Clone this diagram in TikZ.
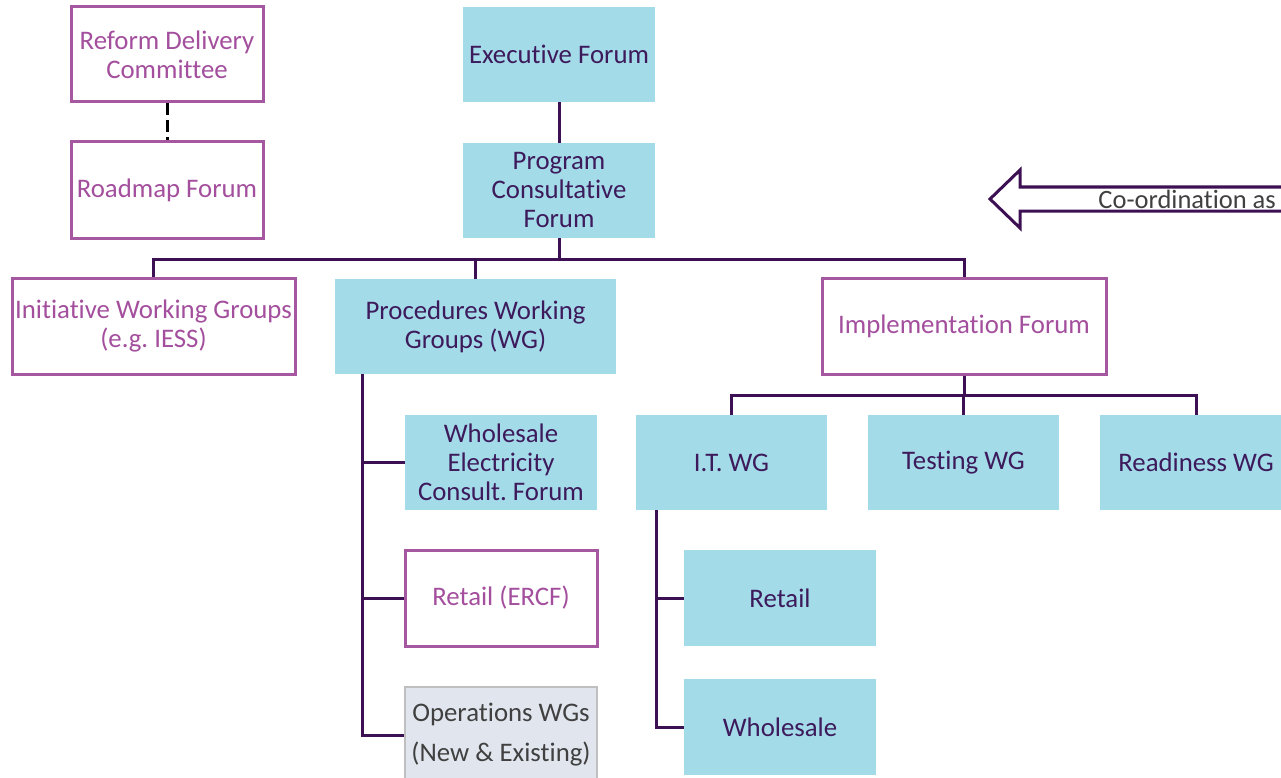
\documentclass[tikz,border=0pt]{standalone}
\usepackage{fontspec}
\setmainfont{Carlito}[RawFeature={-liga;-clig;-calt;-dlig}]
\frenchspacing
\definecolor{pbord}{HTML}{A5579F}
\definecolor{ptext}{HTML}{A34F9D}
\definecolor{bfill}{HTML}{A4DBE8}
\definecolor{dtext}{HTML}{3C1A5B}
\definecolor{lineC}{HTML}{3C1053}
\definecolor{gfill}{HTML}{E1E5EE}
\definecolor{gbord}{HTML}{BFBFBF}
\definecolor{gtext}{HTML}{404040}
\tikzset{
  base/.style={rectangle, align=center, inner sep=2pt, font=\fontsize{26.8}{29}\selectfont},
  pbox/.style={base, draw=pbord, line width=3pt, fill=white, text=ptext},
  bbox/.style={base, fill=bfill, text=dtext},
  gbox/.style={base, fill=gfill, draw=gbord, line width=2.5pt, text=gtext, font=\fontsize{26.8}{40}\selectfont},
  conn/.style={draw=lineC, line width=3pt},
  sz/.style 2 args={minimum width=#1pt, minimum height=#2pt}
}
\begin{document}
\begin{tikzpicture}[x=1pt,y=1pt]
\useasboundingbox (0,0) rectangle (1281,-778);
\clip (0,0) rectangle (1281,-778);
% nodes
\node[pbox, sz={192}{95}] (rdc) at (167,-54.5) {Reform Delivery\\Committee};
\node[pbox, sz={192}{96}] (road) at (167,-190) {Roadmap Forum};
\node[bbox, sz={192}{95}] (exec) at (559,-54.5) {Executive Forum};
\node[bbox, sz={192}{95}] (pcf) at (559,-190.5) {Program\\Consultative\\Forum};
\node[pbox, sz={283}{96}] (init) at (153.5,-326) {Initiative Working Groups\\(e.g. IESS)};
\node[bbox, sz={281}{95}] (proc) at (475.5,-326.5) {Procedures Working\\Groups (WG)};
\node[pbox, sz={284}{96}] (impl) at (964,-326) {Implementation Forum};
\node[bbox, sz={191}{95}] (it) at (731.5,-462.5) {I.T. WG};
\node[bbox, sz={191}{95}] (test) at (963.5,-462.5) {Testing WG};
\node[bbox, sz={192}{95}] (ready) at (1196,-462.5) {Readiness WG};
\node[bbox, sz={192}{95}] (wecf) at (501,-462.5) {Wholesale\\Electricity\\Consult. Forum};
\node[pbox, sz={192}{96}] (retE) at (501,-598) {Retail (ERCF)};
\node[gbox, sz={192}{96}] (ops) at (501,-735) {Operations WGs\\(New \& Existing)};
\node[bbox, sz={192}{96}] (itR) at (780,-598) {Retail};
\node[bbox, sz={192}{96}] (itW) at (780,-727) {Wholesale};
% connectors
\draw[line width=3pt, dash pattern=on 12pt off 5pt] (rdc.south) -- (road.north);
\draw[conn] (exec.south) -- (pcf.north);
\coordinate (barY) at (0,-259);
\draw[conn] (init.north) -- (init.north |- barY) -| (impl.north);
\draw[conn] (pcf.south) -- (pcf.south |- barY);
\draw[conn] (proc.north) -- (proc.north |- barY);
\coordinate (barB) at (0,-395);
\draw[conn] (it.north) -- (it.north |- barB) -| (ready.north);
\draw[conn] (impl.south) -- (impl.south |- barB);
\draw[conn] (test.north) -- (test.north |- barB);
\coordinate (pvtop) at (362,-374);
\draw[conn] (pvtop) |- (ops.west);
\draw[conn] (pvtop |- wecf.west) -- (wecf.west);
\draw[conn] (pvtop |- retE.west) -- (retE.west);
\coordinate (ivtop) at (656,-510);
\draw[conn] (ivtop) |- (itW.west);
\draw[conn] (ivtop |- itR.west) -- (itR.west);
% arrow
\draw[draw=lineC, line width=3pt, fill=white, line join=miter]
  (990,-199) -- (1020,-170) -- (1020,-187) -- (1295,-187) -- (1295,-211) -- (1020,-211) -- (1020,-228) -- cycle;
\node[anchor=east, text=gtext, font=\fontsize{26.5}{29}\selectfont, inner sep=0pt] (coord) at (1276,-199) {Co-ordination as};
\end{tikzpicture}
\end{document}
